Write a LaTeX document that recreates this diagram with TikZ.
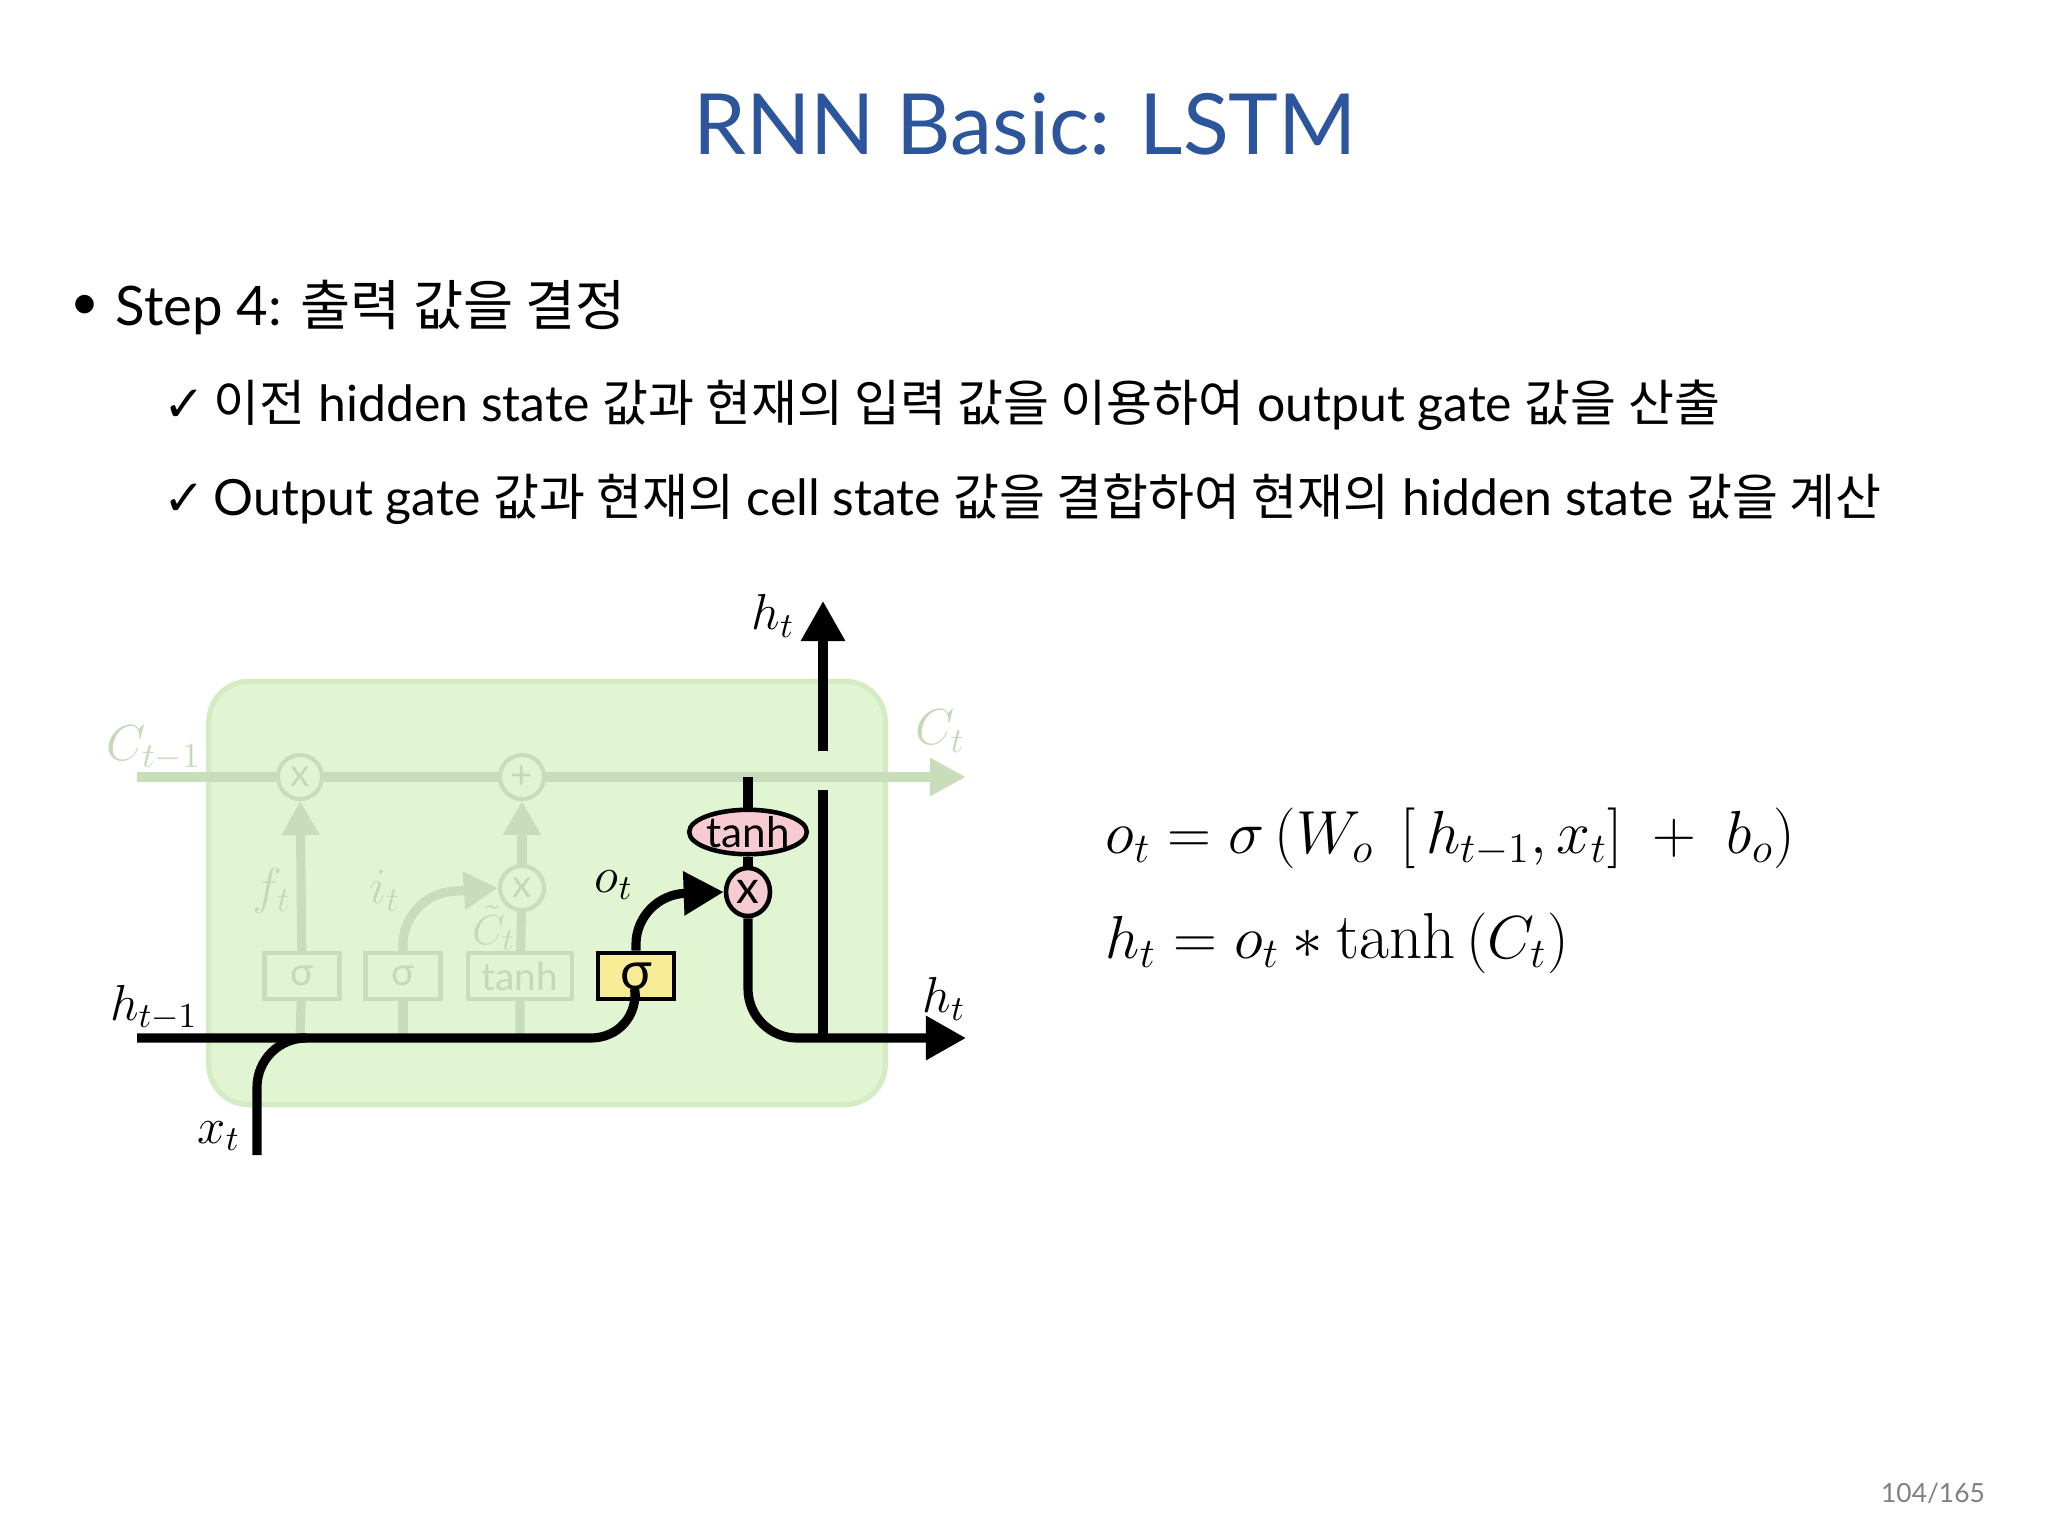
\documentclass[tikz,border=0pt]{standalone}
\usepackage{fontspec}
\usepackage{amsmath}
\setmainfont{Lato}
\newfontfamily\krfont{Noto Sans CJK KR}
\newfontfamily\djfont{DejaVu Sans}
\newfontfamily\lmrfont{Latin Modern Roman}
\usetikzlibrary{arrows.meta,shapes.geometric}
\definecolor{ttl}{RGB}{45,85,155}
\definecolor{cellbg}{RGB}{226,245,210}
\definecolor{cellbd}{RGB}{212,236,196}
\definecolor{pale}{RGB}{200,222,186}
\definecolor{paletxt}{RGB}{196,218,182}
\definecolor{gateyel}{RGB}{248,236,150}
\definecolor{pinkc}{RGB}{246,204,210}
\tikzset{
 blk/.style={line width=2.6pt,black,rounded corners=14},
 pl/.style={line width=2.6pt,pale},
 palebox/.style={draw=pale,line width=1.2pt,minimum height=0.46cm,inner sep=1pt,text=paletxt,font=\fontsize{11}{11}\selectfont},
 palecirc/.style={circle,draw=pale,line width=1.2pt,minimum size=0.44cm,inner sep=0,text=paletxt,font=\fontsize{11}{11}\selectfont},
 ptxt/.style={text=paletxt,font=\fontsize{14}{14}\selectfont},
 btxt/.style={font=\fontsize{14}{14}\selectfont},
 body/.style={font=\fontsize{14.2}{17}\selectfont,anchor=west,inner sep=0},
 bigtip/.style={-{Triangle[length=0.4cm,width=0.42cm]}},
}
\begin{document}
\begin{tikzpicture}[x=0.01cm,y=-0.01cm]
\useasboundingbox (0,0) rectangle (2048,1536);
\node[text=ttl,font=\fontsize{24}{24}\selectfont] (title) at (1025,124) {RNN Basic: LSTM};
\node[body] (b0) at (70,307) {•};
\node[body,font=\fontsize{15.5}{18}\selectfont] (b1) at (115,307) {Step 4: {\krfont 출력 값을 결정}};
\node[body] (c1) at (163,405) {{\djfont ✓}\,{\krfont 이전} hidden state {\krfont 값과 현재의 입력 값을 이용하여} output gate {\krfont 값을 산출}};
\node[body] (c2) at (163,499) {{\djfont ✓}\,Output gate {\krfont 값과 현재의} cell state {\krfont 값을 결합하여 현재의} hidden state {\krfont 값을 계산}};
% cell box
\node[draw=cellbd,fill=cellbg,line width=1.5pt,rounded corners=0.4cm,minimum width=6.76cm,minimum height=4.23cm] (cell) at (547,893) {};
% pale parts
\coordinate (cl0) at (137,777); \coordinate (cl1) at (966,777);
\draw[pl,-{Triangle[length=0.36cm,width=0.36cm]}] (cl0) -- (cl1);
\node[palecirc,fill=cellbg] (m1) at (300,777) {x};
\node[palecirc,fill=cellbg] (p1) at (522,777) {+};
\node[palebox,minimum width=0.75cm] (g1) at (302,976) {σ};
\node[palebox,minimum width=0.75cm] (g2) at (403,976) {σ};
\node[palebox,minimum width=1.04cm] (g3) at (520,976) {tanh};
\node[palecirc] (m2) at (522,888) {x};
\draw[pl,-{Triangle[length=0.34cm,width=0.36cm]}] (300,1038) -- (g1) -- (m1);
\draw[pl] (403,1038) -- (g2);
\draw[pl,rounded corners=14,-{Triangle[length=0.34cm,width=0.36cm]}] (g2.north) -- (403,895) -- (m2.west);
\draw[pl] (520,1038) -- (g3) -- (m2);
\draw[pl,-{Triangle[length=0.34cm,width=0.36cm]}] (m2) -- (p1);
\node[ptxt] (Lc0) at (154,748) {$C_{t-1}$};
\node[ptxt] (Lc1) at (940,731) {$C_t$};
\node[ptxt] (Lf) at (272,891) {$f_t$};
\node[ptxt] (Li) at (385,891) {$i_t$};
\node[ptxt,font=\fontsize{13}{13}\selectfont] (Lct) at (494,928) {$\tilde{C}_t$};
% black parts
\node[draw,fill=gateyel,line width=1.3pt,minimum width=0.76cm,minimum height=0.46cm,inner sep=1pt,font=\fontsize{15}{15}\selectfont] (og) at (636,976) {σ};
\node[ellipse,draw,fill=pinkc,line width=1.3pt,minimum width=1.04cm,minimum height=0.42cm,inner sep=0,font=\fontsize{12}{12}\selectfont] (th) at (748,832) {tanh};
\node[ellipse,draw,fill=pinkc,line width=1.3pt,minimum width=0.44cm,minimum height=0.48cm,inner sep=0,font=\fontsize{13}{13}\selectfont] (mx) at (748,892) {x};
\coordinate (h0) at (137,1038);
\coordinate (x0) at (257,1155);
\coordinate (hr) at (966,1038);
\coordinate (hu) at (823,601);
\draw[blk] (h0) -- (640,1038) -- (og.south);
\draw[blk] (x0) -- (257,1038) -- (300,1038);
\draw[blk,bigtip] (og.north) -- (636,895) -- (mx.west);
\draw[line width=2.6pt] (th.south) -- (mx.north);
\draw[line width=2.6pt] (th.north) -- (748,777);
\draw[blk,bigtip] (mx.south) -- (748,1038) -- (hr);
\draw[line width=2.6pt] (823,1038) -- (823,790);
\draw[line width=2.6pt,bigtip] (823,751) -- (hu);
\node[btxt] (Lho) at (773,616) {$h_t$};
\node[btxt] (Lot) at (614,885) {$o_t$};
\node[btxt] (Lhp) at (154,1008) {$h_{t-1}$};
\node[btxt] (Lhr) at (944,999) {$h_t$};
\node[btxt] (Lx) at (219,1136) {$x_t$};
% equations
\node[anchor=west,inner sep=0,font=\fontsize{18.5}{18.5}\selectfont] (e1) at (1105,838) {$o_t = \sigma\left(W_o\ \left[\,h_{t-1},x_t\right]\ +\ b_o\right)$};
\node[anchor=west,inner sep=0,font=\fontsize{18.5}{18.5}\selectfont] (e2) at (1105,943) {$h_t = o_t * \text{\lmrfont tanh}\left(C_t\right)$};
\node[text=gray,font=\fontsize{7.5}{7.5}\selectfont] (pg) at (1933,1493) {104/165};
\end{tikzpicture}
\end{document}
